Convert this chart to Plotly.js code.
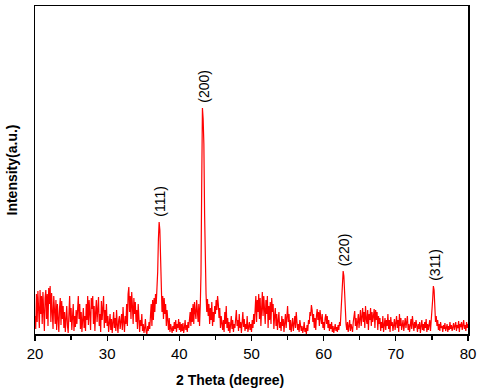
<!DOCTYPE html>
<html>
<head>
<meta charset="utf-8">
<script src="https://cdn.plot.ly/plotly-3.0.1.min.js"></script>
<style>
  html, body { margin: 0; padding: 0; background: #fff; }
  #plot { width: 480px; height: 392px; }
</style>
</head>
<body>
<div id="plot"></div>
<script>
// XRD pattern, step 0.1 deg starting at 20 deg
var startAngle = 20;
var stepAngle = 0.1;

var counts20to30 = [
  18, 5, 40, 12, 43, 28, 6, 44, 20, 38,
  10, 42, 25, 3, 36, 44, 15, 40, 8, 46,
  30, 48, 12, 41, 22, 5, 38, 27, 10, 34,
  4, 30, 18, 2, 26, 36, 9, 33, 15, 28,
  6, 22, 2, 17, 28, 8, 1, 20, 38, 12,
  26, 4, 14, 30, 3, 18, 7, 24, 10, 32,
  38, 15, 30, 5, 22, 2, 12, 26, 6, 18,
  3, 30, 14, 38, 9, 34, 20, 4, 36, 25,
  38, 10, 28, 3, 22, 34, 12, 30, 37, 8,
  20, 2, 33, 14, 28, 38, 6, 24, 11, 30
];
var counts30to40 = [
  8, 18, 2, 12, 20, 4, 15, 1, 10, 22,
  6, 16, 3, 24, 9, 1, 14, 18, 5, 11,
  20, 4, 27, 12, 2, 18, 10, 30, 8, 40,
  47, 22, 38, 15, 42, 28, 10, 36, 20, 32,
  12, 24, 5, 30, 18, 2, 14, 8, 20, 3,
  10, 1, 6, 15, 2, 0, 8, 3, 12, 5,
  18, 30, 8, 34, 14, 36, 22, 40, 30, 45,
  62, 95, 112, 104, 72, 40, 22, 38, 15, 36,
  20, 30, 8, 24, 12, 4, 16, 2, 10, 6,
  1, 8, 3, 12, 5, 14, 2, 10, 6, 15
];
var counts40to50 = [
  4, 12, 2, 10, 3, 11, 1, 6, 14, 4,
  9, 2, 12, 6, 15, 22, 8, 26, 12, 30,
  10, 32, 22, 15, 34, 25, 12, 30, 8, 28,
  60, 150, 226, 215, 190, 120, 70, 40, 22, 35,
  18, 30, 10, 26, 14, 32, 8, 22, 12, 28,
  20, 34, 24, 38, 30, 16, 26, 6, 18, 10,
  4, 14, 2, 22, 10, 28, 6, 16, 3, 12,
  1, 9, 18, 5, 14, 2, 10, 6, 15, 24,
  8, 14, 3, 20, 6, 12, 1, 16, 22, 7,
  15, 3, 10, 5, 18, 2, 8, 12, 4, 10
];
var counts50to60 = [
  2, 14, 6, 20, 10, 28, 38, 12, 34, 22,
  40, 15, 36, 8, 30, 42, 18, 38, 25, 10,
  34, 20, 38, 6, 28, 14, 32, 10, 36, 22,
  30, 5, 18, 26, 8, 20, 4, 14, 22, 6,
  12, 3, 18, 8, 15, 2, 10, 20, 6, 24,
  28, 12, 20, 4, 14, 2, 8, 16, 3, 10,
  18, 6, 22, 12, 4, 10, 2, 14, 6, 3,
  8, 1, 5, 12, 2, 6, 0, 9, 3, 14,
  10, 22, 18, 29, 24, 12, 20, 6, 16, 4,
  18, 25, 14, 22, 8, 24, 16, 10, 20, 6
];
var counts60to70 = [
  12, 4, 16, 20, 10, 18, 6, 14, 3, 10,
  5, 12, 2, 8, 1, 6, 10, 3, 7, 2,
  9, 4, 12, 8, 20, 36, 52, 63, 58, 40,
  18, 10, 4, 12, 2, 8, 14, 3, 10, 6,
  2, 12, 18, 23, 8, 16, 4, 10, 20, 6,
  14, 24, 8, 18, 26, 12, 22, 6, 28, 15,
  10, 24, 4, 20, 14, 26, 8, 22, 12, 18,
  25, 6, 24, 14, 22, 4, 18, 10, 16, 3,
  12, 6, 18, 2, 10, 16, 4, 14, 8, 20,
  5, 14, 2, 17, 8, 12, 3, 10, 15, 4
];
var counts70to80 = [
  11, 18, 6, 14, 2, 20, 8, 16, 4, 10,
  14, 3, 9, 16, 6, 12, 18, 4, 10, 2,
  8, 15, 5, 18, 10, 3, 12, 6, 14, 8,
  2, 10, 5, 12, 1, 8, 14, 4, 10, 3,
  12, 6, 15, 2, 10, 4, 8, 14, 3, 12,
  20, 34, 48, 44, 28, 12, 18, 8, 14, 4,
  10, 3, 12, 6, 8, 2, 9, 5, 11, 3,
  6, 10, 2, 8, 4, 12, 5, 9, 3, 7,
  11, 4, 8, 12, 3, 9, 6, 13, 2, 10,
  7, 12, 4, 10, 14, 5, 9, 3, 12, 6,
  10
];

var peakLabels = ['(111)', '(200)', '(220)', '(311)'];
var peakAngles = [37.2, 43.3, 62.8, 75.4];
var peakHeights = [112, 226, 63, 48];

var intensity = [].concat(counts20to30, counts30to40, counts40to50,
                          counts50to60, counts60to70, counts70to80);
var twoTheta = intensity.map(function (_, i) {
  return +(startAngle + i * stepAngle).toFixed(1);
});

var trace = {
  x: twoTheta,
  y: intensity,
  mode: 'lines',
  type: 'scatter',
  line: {color: '#ff0000', width: 1.2},
  hoverinfo: 'skip'
};

var annotations = peakLabels.map(function (lab, i) {
  return {
    x: peakAngles[i],
    y: peakHeights[i],
    text: lab,
    showarrow: false,
    textangle: -90,
    yanchor: 'bottom',
    xanchor: 'center',
    yshift: 3,
    font: {family: 'Liberation Sans, Arial, sans-serif', size: 14, color: '#000'}
  };
});

// x title sits a bit left of the axis centre in the original
annotations.push({
  xref: 'paper', yref: 'paper',
  x: 0.45, y: -0.11,
  xanchor: 'center', yanchor: 'top',
  text: '<b>2 Theta (degree)</b>',
  showarrow: false,
  font: {family: 'Liberation Sans, Arial, sans-serif', size: 14, color: '#000'}
});

var layout = {
  width: 480,
  height: 392,
  margin: {l: 35, r: 12, t: 6, b: 58},
  paper_bgcolor: '#fff',
  plot_bgcolor: '#fff',
  showlegend: false,
  font: {family: 'Liberation Sans, Arial, sans-serif', color: '#000'},
  xaxis: {
    range: [20, 80],
    dtick: 10,
    ticks: 'outside',
    ticklen: 5,
    tickwidth: 1.2,
    tickcolor: '#000',
    minor: {dtick: 5, ticks: 'outside', ticklen: 4, tickwidth: 1.2, tickcolor: '#000'},
    showline: true,
    linecolor: '#000',
    linewidth: 1.5,
    mirror: true,
    showgrid: false,
    zeroline: false,
    tickfont: {size: 15}
  },
  yaxis: {
    range: [0, 328],
    showticklabels: false,
    ticks: '',
    showline: true,
    linecolor: '#000',
    linewidth: 1.5,
    mirror: true,
    showgrid: false,
    zeroline: false,
    title: {text: '<b>Intensity(a.u.)</b>', font: {size: 14}, standoff: 12}
  },
  annotations: annotations
};

Plotly.newPlot('plot', [trace], layout, {displayModeBar: false, staticPlot: true});
</script>
</body>
</html>
